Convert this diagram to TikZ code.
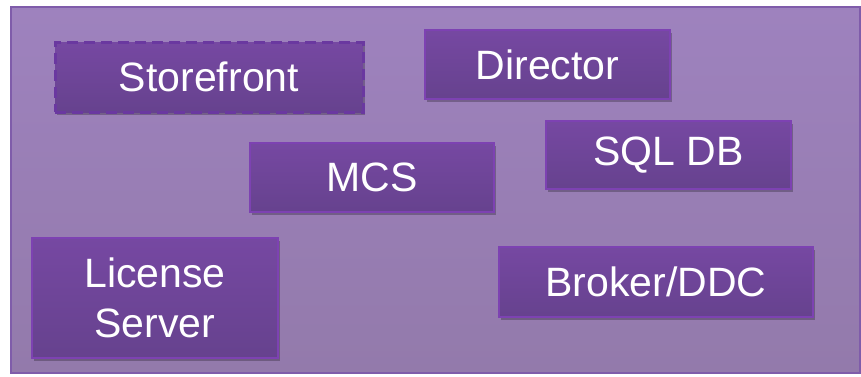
\documentclass[tikz,border=0pt]{standalone}
\usepackage{fontspec}
\setmainfont{Liberation Sans}
\usetikzlibrary{shadows}
\definecolor{bgtop}{HTML}{9E82BE}
\definecolor{bgbot}{HTML}{937AAB}
\definecolor{bgedge}{HTML}{7F5CAA}
\definecolor{boxtop}{HTML}{7648A2}
\definecolor{boxbot}{HTML}{66428E}
\definecolor{boxedge}{HTML}{7D42B2}
\definecolor{dashedge}{HTML}{6A38A0}
\tikzset{
  comp/.style={rectangle, top color=boxtop, bottom color=boxbot, draw=boxedge, line width=1.2pt,
    text=white, align=center, inner sep=0pt,
    font=\fontsize{41}{50}\selectfont,
    drop shadow={shadow xshift=2pt, shadow yshift=-3pt, opacity=0.25, fill=black, draw=none}},
  dashedcomp/.style={comp, dash pattern=on 11pt off 6pt, line width=3pt, draw=dashedge}
}
\begin{document}
\begin{tikzpicture}[x=1pt,y=-1pt]
\useasboundingbox (0,0) rectangle (861,376);
\shade[top color=bgtop, bottom color=bgbot, draw=bgedge, line width=1.5pt] (11,7) rectangle (860,373);
\node[dashedcomp, minimum width=308pt, minimum height=70pt] (sf) at (209,77) {Storefront};
\node[comp, minimum width=245pt, minimum height=69pt] (dir) at (547.5,64.5) {Director};
\node[comp, minimum width=245pt, minimum height=68pt] (sql) at (668.5,155) {SQL DB};
\node[comp, minimum width=244pt, minimum height=69pt] (mcs) at (372,177.5) {MCS};
\node[comp, minimum width=246pt, minimum height=120pt] (lic) at (155,298) {License\\Server};
\node[comp, minimum width=314pt, minimum height=70pt] (brk) at (656,282) {Broker/DDC};
\end{tikzpicture}
\end{document}
